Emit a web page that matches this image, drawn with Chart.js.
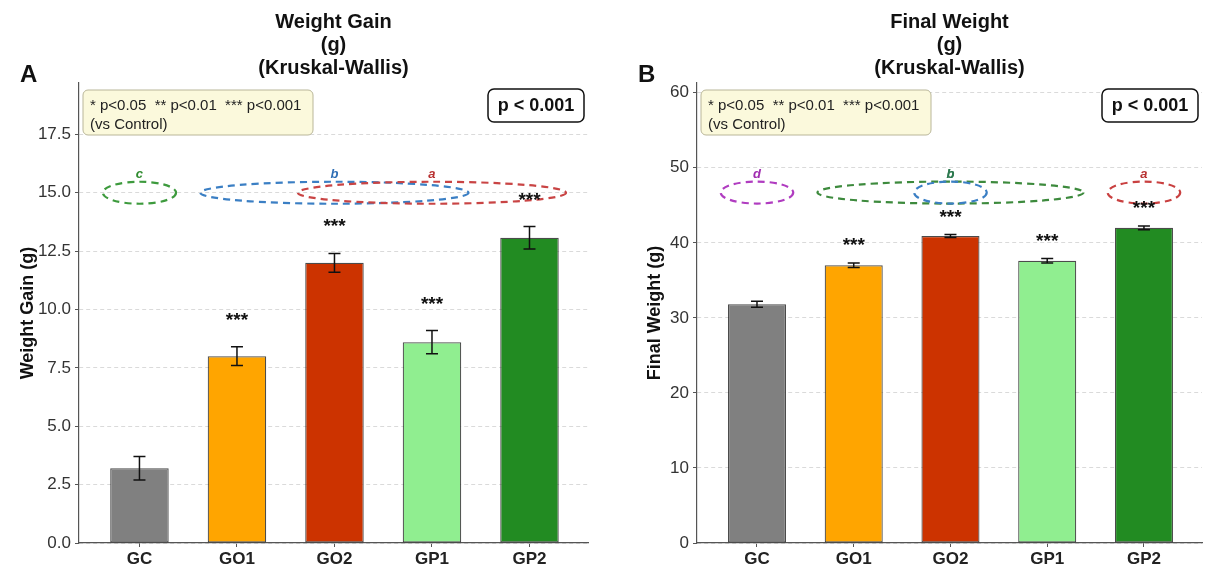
<!DOCTYPE html>
<html>
<head>
<meta charset="utf-8">
<script src="https://cdn.jsdelivr.net/npm/chart.js@4.4.0/dist/chart.umd.min.js"></script>
<style>
  body { margin: 0; background: #fff; }
  #wrap { position: relative; width: 1214px; height: 574px; }
  canvas { position: absolute; top: 0; }
</style>
</head>
<body>
<div id="wrap">
  <canvas id="chartA" width="607" height="574" style="left:0"></canvas>
  <canvas id="chartB" width="607" height="574" style="left:607px"></canvas>
</div>
<script>
// gruppi e colori comuni
var groups = ["GC", "GO1", "GO2", "GP1", "GP2"];
var barColors = ["#808080", "#ffa500", "#cc3300", "#90ee90", "#228b22"];

// pannello A - Weight Gain
var gainMean = [3.2, 8.0, 12.0, 8.6, 13.07];
var gainErr = [0.5, 0.4, 0.4, 0.5, 0.48];
var gainStars = ["", "***", "***", "***", "***"];
var gainTicks = [0, 2.5, 5, 7.5, 10, 12.5, 15, 17.5];
var gainLetters = ["c", "b", "a"];
var gainLetterGroup = [0, 2, 3];   // gruppo al centro dell'ellisse
var gainLetterSpan = [1, 3, 3];    // quanti gruppi copre l'ellisse

// pannello B - Final Weight
var finalMean = [31.8, 37.0, 40.9, 37.6, 42.0];
var finalErr = [0.4, 0.3, 0.2, 0.3, 0.25];
var finalStars = ["", "***", "***", "***", "***"];
var finalTicks = [0, 10, 20, 30, 40, 50, 60];
var finalLetters = ["d", "b", "b", "a"];
var finalLetterGroup = [0, 2, 2, 4];
var finalLetterSpan = [1, 3, 1, 1];

Chart.defaults.font.family = "'Liberation Sans', Arial, sans-serif";
Chart.defaults.color = "#222";

// plugin per barre d'errore, asterischi, ellissi e riquadri
var extras = {
  id: "extras",
  afterDatasetsDraw: function(chart) {
    var cfg = chart.options.plugins.extras;
    var ctx = chart.ctx;
    var xs = chart.scales.x;
    var ys = chart.scales.y;
    var meta = chart.getDatasetMeta(0);

    ctx.save();
    // ellissi delle lettere
    ctx.setLineDash([7, 5]);
    ctx.lineWidth = 2.2;
    for (var j = 0; j < cfg.letters.length; j++) {
      var cx = xs.getPixelForValue(cfg.letterGroup[j]);
      var w = xs.getPixelForValue(cfg.letterSpan[j] - 0.25) - xs.getPixelForValue(0);
      var cy = ys.getPixelForValue(cfg.letterLevel);
      ctx.strokeStyle = cfg.ellipseColors[j];
      ctx.beginPath();
      ctx.ellipse(cx, cy, w / 2, 11, 0, 0, Math.PI * 2);
      ctx.stroke();
    }
    ctx.setLineDash([]);
    ctx.font = "italic bold 13px 'Liberation Sans', Arial, sans-serif";
    ctx.textAlign = "center";
    ctx.textBaseline = "middle";
    for (var j = 0; j < cfg.letters.length; j++) {
      ctx.fillStyle = cfg.letterColors[j];
      ctx.fillText(cfg.letters[j], xs.getPixelForValue(cfg.letterGroup[j]), ys.getPixelForValue(cfg.letterLevel) - 18);
    }

    // barre d'errore
    ctx.strokeStyle = "#111";
    ctx.lineWidth = 1.5;
    meta.data.forEach(function(bar, i) {
      var top = ys.getPixelForValue(cfg.mean[i] + cfg.err[i]);
      var bot = ys.getPixelForValue(cfg.mean[i] - cfg.err[i]);
      ctx.beginPath();
      ctx.moveTo(bar.x, top); ctx.lineTo(bar.x, bot);
      ctx.moveTo(bar.x - 6, top); ctx.lineTo(bar.x + 6, top);
      ctx.moveTo(bar.x - 6, bot); ctx.lineTo(bar.x + 6, bot);
      ctx.stroke();

      if (cfg.stars[i]) {
        ctx.fillStyle = "#111";
        ctx.font = "bold 19px 'Liberation Sans', Arial, sans-serif";
        ctx.textBaseline = "alphabetic";
        ctx.fillText(cfg.stars[i], bar.x, top - cfg.starOffset + 9);
      }
    });
    ctx.restore();
  },
  afterDraw: function(chart) {
    var cfg = chart.options.plugins.extras;
    var ctx = chart.ctx;
    var area = chart.chartArea;
    ctx.save();

    // lettera del pannello
    ctx.fillStyle = "#111";
    ctx.font = "bold 24px 'Liberation Sans', Arial, sans-serif";
    ctx.textAlign = "left";
    ctx.textBaseline = "alphabetic";
    ctx.fillText(cfg.panel, area.left - 59, 82);

    // riquadro della legenda
    var bx = area.left + 4, by = area.top + 7;
    ctx.beginPath();
    ctx.roundRect(bx, by, 230, 45, 5);
    ctx.fillStyle = "#fbf9dc";
    ctx.fill();
    ctx.strokeStyle = "#b9b699";
    ctx.lineWidth = 1;
    ctx.stroke();
    ctx.fillStyle = "#222";
    ctx.font = "15px 'Liberation Sans', Arial, sans-serif";
    ctx.textBaseline = "middle";
    ctx.fillText("* p<0.05  ** p<0.01  *** p<0.001", bx + 7, by + 16);
    ctx.fillText("(vs Control)", bx + 7, by + 35);

    // riquadro p-value
    var px = area.right - 100, py = area.top + 6;
    ctx.beginPath();
    ctx.roundRect(px, py, 96, 33, 6);
    ctx.fillStyle = "#fff";
    ctx.fill();
    ctx.strokeStyle = "#111";
    ctx.lineWidth = 1.5;
    ctx.stroke();
    ctx.fillStyle = "#111";
    ctx.font = "bold 18px 'Liberation Sans', Arial, sans-serif";
    ctx.textAlign = "center";
    ctx.fillText("p < 0.001", px + 48, py + 17);
    ctx.restore();
  }
};

function makeChart(id, opt) {
  var ctx = document.getElementById(id).getContext("2d");
  return new Chart(ctx, {
    type: "bar",
    data: {
      datasets: [{
        data: opt.mean.map(function(v, i) { return {x: i, y: v}; }),
        backgroundColor: barColors,
        borderColor: "rgba(30,30,30,0.8)",
        borderWidth: 1.2,
        borderSkipped: false,
        categoryPercentage: 1,
        barPercentage: 0.6
      }]
    },
    plugins: [extras],
    options: {
      responsive: false,
      animation: false,
      devicePixelRatio: 1,
      layout: { padding: { left: 0, right: opt.padRight, top: 11, bottom: 0 } },
      plugins: {
        legend: { display: false },
        tooltip: { enabled: false },
        title: {
          display: true,
          text: opt.title,
          fullSize: false,
          color: "#111",
          font: { size: 20, weight: "bold", lineHeight: 1.15 },
          padding: { top: 0, bottom: 3 }
        },
        extras: opt
      },
      scales: {
        x: {
          type: "linear",
          offset: false,
          min: -0.62,
          max: 4.6,
          afterBuildTicks: function(s) {
            s.ticks = groups.map(function(g, i) { return {value: i}; });
          },
          afterFit: function(s) { s.height = 31; },
          ticks: {
            callback: function(v) { return groups[v]; },
            font: { size: 17, weight: "bold" },
            color: "#222",
            padding: 2,
            maxRotation: 0
          },
          grid: { offset: false, drawOnChartArea: false, drawTicks: true, tickLength: 4, tickColor: "#555", tickWidth: 1 },
          border: { color: "#555", width: 1.2 }
        },
        y: {
          min: 0,
          max: opt.yMax,
          afterBuildTicks: function(s) {
            s.ticks = opt.ticks.map(function(v) { return {value: v}; });
          },
          afterFit: function(s) { s.width = opt.axisWidth; },
          ticks: {
            callback: opt.tickFormat,
            font: { size: 17 },
            color: "#333",
            padding: 4
          },
          grid: { color: "#d6d6d6", lineWidth: 0.9, tickLength: 4, tickColor: "#555", tickWidth: 1 },
          border: { color: "#555", width: 1.2, dash: [4, 3] },
          title: {
            display: true,
            text: opt.yTitle,
            color: "#111",
            font: { size: 18, weight: "bold", lineHeight: 1.2 },
            padding: { top: opt.titlePad, bottom: 0 }
          }
        }
      }
    }
  });
}

makeChart("chartA", {
  panel: "A",
  title: ["Weight Gain", "(g)", "(Kruskal-Wallis)"],
  yTitle: "Weight Gain (g)",
  mean: gainMean, err: gainErr, stars: gainStars, ticks: gainTicks,
  tickFormat: function(v) { return v.toFixed(1); },
  yMax: 19.7, axisWidth: 79, titlePad: 17, padRight: 19,
  starOffset: 30,
  letters: gainLetters, letterGroup: gainLetterGroup, letterSpan: gainLetterSpan,
  letterLevel: 15.0,
  ellipseColors: ["#3d9a3d", "#3b7fc4", "#c94444"],
  letterColors: ["#2e8b2e", "#2f6eb5", "#b83232"]
});

makeChart("chartB", {
  panel: "B",
  title: ["Final Weight", "(g)", "(Kruskal-Wallis)"],
  yTitle: "Final Weight (g)",
  mean: finalMean, err: finalErr, stars: finalStars, ticks: finalTicks,
  tickFormat: function(v) { return String(v); },
  yMax: 61.3, axisWidth: 90, titlePad: 37, padRight: 12,
  starOffset: 21,
  letters: finalLetters, letterGroup: finalLetterGroup, letterSpan: finalLetterSpan,
  letterLevel: 46.7,
  ellipseColors: ["#b03cc0", "#3d8a3d", "#3b7fc4", "#c94040"],
  letterColors: ["#a02db0", "#2e7a50", "#2e7a50", "#b83232"]
});
</script>
</body>
</html>
